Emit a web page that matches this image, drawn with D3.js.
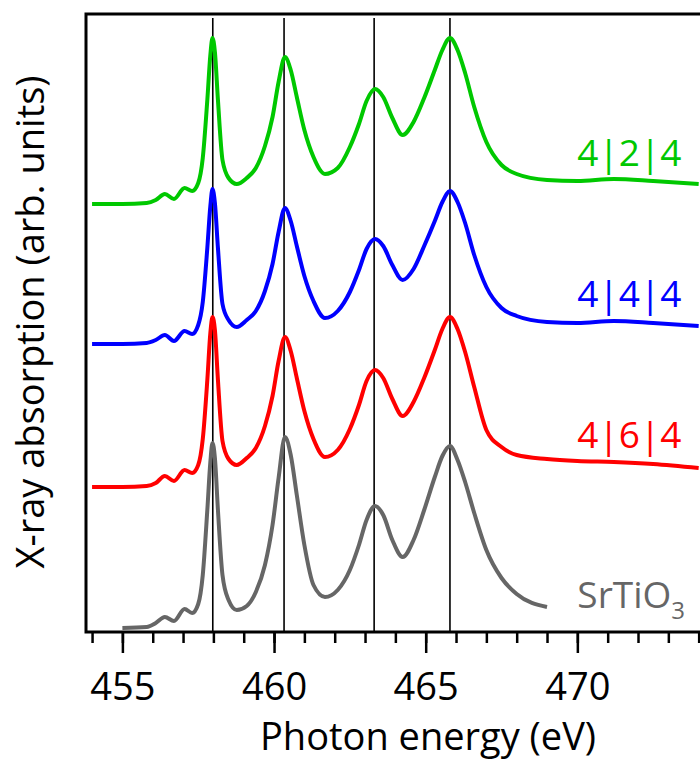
<!DOCTYPE html>
<html>
<head>
<meta charset="utf-8">
<script src="https://cdn.jsdelivr.net/npm/d3@7"></script>
<style>
  body { margin: 0; background: #fff; }
  svg { display: block; font-family: "Open Sans", sans-serif; }
</style>
</head>
<body>
<div id="chart"></div>
<script>
// photon energy grid (eV) shared by the three superlattice spectra
var energy = [454.0, 455.0, 455.8, 456.1, 456.4, 456.7, 457.05, 457.3, 457.5, 457.65,
  457.8, 457.9, 457.97, 458.05, 458.15, 458.3, 458.5, 458.77, 459.1, 459.4,
  459.7, 459.95, 460.15, 460.36, 460.55, 460.75, 461.0, 461.3, 461.68, 462.1,
  462.5, 462.8, 463.05, 463.33, 463.6, 463.9, 464.24, 464.6, 464.95, 465.3,
  465.55, 465.8, 466.05, 466.3, 466.6, 467.0, 467.5, 468.0, 469.0, 470.0,
  471.2, 472.5, 474.0];

// absorption (arb. units, stacked)
var sl424 = [4.28, 4.28, 4.29, 4.32, 4.38, 4.33, 4.44, 4.41, 4.49, 4.74,
  5.32, 5.77, 5.94, 5.80, 5.32, 4.72, 4.54, 4.48, 4.54, 4.64,
  4.86, 5.15, 5.50, 5.75, 5.62, 5.35, 5.02, 4.75, 4.58, 4.64,
  4.85, 5.08, 5.31, 5.43, 5.35, 5.14, 4.97, 5.10, 5.34, 5.62,
  5.82, 5.94, 5.82, 5.59, 5.25, 4.90, 4.67, 4.58, 4.52, 4.51,
  4.53, 4.51, 4.48];

var sl444 = [2.88, 2.88, 2.89, 2.92, 2.97, 2.91, 3.01, 2.98, 3.07, 3.30,
  3.84, 4.26, 4.43, 4.29, 3.84, 3.28, 3.12, 3.05, 3.12, 3.21,
  3.41, 3.68, 4.00, 4.24, 4.11, 3.86, 3.56, 3.31, 3.14, 3.21,
  3.40, 3.62, 3.83, 3.93, 3.86, 3.67, 3.52, 3.63, 3.86, 4.11,
  4.30, 4.41, 4.30, 4.09, 3.77, 3.45, 3.24, 3.16, 3.10, 3.09,
  3.11, 3.09, 3.06];

var sl464 = [1.45, 1.45, 1.46, 1.49, 1.56, 1.51, 1.62, 1.59, 1.67, 1.93,
  2.52, 2.99, 3.15, 3.02, 2.52, 1.91, 1.73, 1.67, 1.74, 1.84,
  2.06, 2.36, 2.71, 2.95, 2.81, 2.54, 2.21, 1.93, 1.75, 1.82,
  2.03, 2.27, 2.51, 2.62, 2.54, 2.33, 2.16, 2.30, 2.54, 2.82,
  3.03, 3.15, 3.03, 2.80, 2.45, 2.02, 1.85, 1.77, 1.73, 1.71,
  1.70, 1.68, 1.64];

// SrTiO3 reference spectrum
var energySto = [455.0, 455.8, 456.1, 456.4, 456.7, 457.05, 457.3, 457.5, 457.65, 457.8,
  457.9, 457.97, 458.05, 458.15, 458.3, 458.5, 458.77, 459.1, 459.4, 459.7,
  459.95, 460.15, 460.36, 460.55, 460.75, 461.0, 461.3, 461.68, 462.1, 462.5,
  462.8, 463.05, 463.33, 463.6, 463.9, 464.24, 464.6, 464.95, 465.3, 465.55,
  465.8, 466.05, 466.3, 466.6, 467.0, 467.5, 468.0, 469.0];
var sto = [0.04, 0.05, 0.09, 0.15, 0.11, 0.23, 0.19, 0.28, 0.57, 1.22,
  1.70, 1.89, 1.74, 1.22, 0.57, 0.32, 0.22, 0.26, 0.40, 0.67,
  1.07, 1.54, 1.95, 1.77, 1.37, 0.87, 0.47, 0.35, 0.42, 0.62,
  0.87, 1.12, 1.26, 1.17, 0.92, 0.75, 0.92, 1.22, 1.55, 1.76,
  1.86, 1.72, 1.50, 1.19, 0.82, 0.54, 0.38, 0.25];

var peakLines = [457.98, 460.33, 463.3, 465.8];
var majorTicks = [455, 460, 465, 470];
var minorTicks = d3.range(454, 475);

var labels = ["4|2|4", "4|4|4", "4|6|4"];
var colors = ["#00c800", "#0000ff", "#ff0000"];
var stoColor = "#666666";

var width = 700;
var height = 760;
var margin = { top: 14, left: 86, bottom: 128 };
var fontSize = 38;

/* Scales */
var x = d3.scaleLinear()
  .domain([453.8, 474.1])
  .range([margin.left, margin.left + 20.3 * 30.33]);

var y = d3.scaleLinear()
  .domain([0, 6.18])
  .range([height - margin.bottom, margin.top]);

var svg = d3.select("#chart")
  .append("svg")
  .attr("width", width)
  .attr("height", height);

/* peak position guides */
svg.append("g")
  .selectAll("line")
  .data(peakLines)
  .enter()
  .append("line")
  .attr("x1", (d) => x(d))
  .attr("x2", (d) => x(d))
  .attr("y1", margin.top + 4)
  .attr("y2", y(0))
  .attr("stroke", "#000")
  .attr("stroke-width", 1.6);

/* spectra */
var line = d3.line()
  .curve(d3.curveMonotoneX)
  .x((d) => x(d[0]))
  .y((d) => y(d[1]));

var series = [sl424, sl444, sl464].map((vals, i) => ({
  name: labels[i],
  color: colors[i],
  values: energy.map((e, j) => [e, vals[j]])
}));
series.push({
  name: "SrTiO3",
  color: stoColor,
  values: energySto.map((e, j) => [e, sto[j]])
});

svg.append("g")
  .selectAll("path")
  .data(series)
  .enter()
  .append("path")
  .attr("d", (d) => line(d.values))
  .attr("fill", "none")
  .attr("stroke", (d) => d.color)
  .attr("stroke-width", 4)
  .attr("stroke-linejoin", "round");

/* frame */
svg.append("path")
  .attr("d", `M${width + 5},${margin.top}H${margin.left}V${y(0)}H${width + 5}`)
  .attr("fill", "none")
  .attr("stroke", "#000")
  .attr("stroke-width", 3);

/* x axis ticks */
var xAxisMinor = d3.axisBottom(x)
  .tickValues(minorTicks)
  .tickSize(11)
  .tickFormat("");
var xAxisMajor = d3.axisBottom(x)
  .tickValues(majorTicks)
  .tickSize(21)
  .tickPadding(20)
  .tickFormat(d3.format("d"));

var gMinor = svg.append("g")
  .attr("transform", `translate(0, ${y(0)})`)
  .call(xAxisMinor);
var gMajor = svg.append("g")
  .attr("transform", `translate(0, ${y(0)})`)
  .call(xAxisMajor);

[gMinor, gMajor].forEach(function (g) {
  g.select(".domain").remove();
  g.selectAll(".tick line").attr("stroke", "#000").attr("stroke-width", 2.5);
});
gMajor.selectAll(".tick text")
  .attr("fill", "#000")
  .style("font-size", fontSize + "px")
  .style("font-family", "'Open Sans', sans-serif");

/* axis titles */
svg.append("text")
  .attr("x", 428)
  .attr("y", 750)
  .attr("text-anchor", "middle")
  .style("font-size", fontSize + "px")
  .text("Photon energy (eV)");

svg.append("text")
  .attr("transform", `translate(44, 322) rotate(-90)`)
  .attr("text-anchor", "middle")
  .style("font-size", fontSize + "px")
  .text("X-ray absorption (arb. units)");

/* series labels */
var labelPos = [
  { e: 470.0, v: 4.66 },
  { e: 470.0, v: 3.25 },
  { e: 470.0, v: 1.84 }
];
svg.append("g")
  .selectAll("text")
  .data(series.slice(0, 3))
  .enter()
  .append("text")
  .attr("x", (d, i) => x(labelPos[i].e))
  .attr("y", (d, i) => y(labelPos[i].v))
  .attr("fill", (d) => d.color)
  .style("font-size", "37px")
  .text((d) => d.name);

var stoLabel = svg.append("text")
  .attr("x", x(470.0))
  .attr("y", y(0.24))
  .attr("fill", stoColor)
  .style("font-size", "37px");
stoLabel.append("tspan").text("SrTiO");
stoLabel.append("tspan")
  .attr("dy", 11)
  .style("font-size", "24px")
  .text("3");
</script>
</body>
</html>
